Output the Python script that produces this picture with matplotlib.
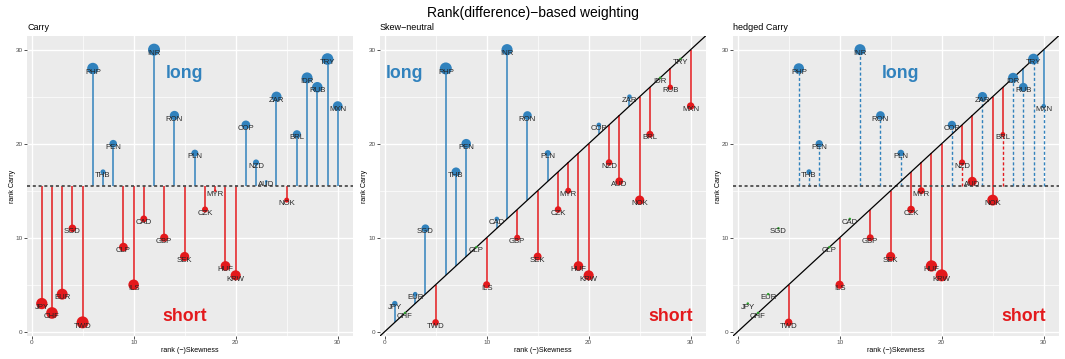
import numpy as np
import matplotlib
matplotlib.use("Agg")
import matplotlib.pyplot as plt

plt.rcParams["font.family"] = ["Liberation Sans", "DejaVu Sans"]

# ---- data -----------------------------------------------------------------
currencies = ["JPY", "CHF", "EUR", "SGD", "TWD", "PHP", "THB", "PEN", "CLP", "ILS",
              "CAD", "INR", "GBP", "RON", "SEK", "PLN", "CZK", "MYR", "HUF", "KRW",
              "COP", "NZD", "AUD", "ZAR", "NOK", "BRL", "IDR", "RUB", "TRY", "MXN"]
skew_rank = [1, 2, 3, 4, 5, 6, 7, 8, 9, 10,
             11, 12, 13, 14, 15, 16, 17, 18, 19, 20,
             21, 22, 23, 24, 25, 26, 27, 28, 29, 30]
carry_rank = [3, 2, 4, 11, 1, 28, 17, 20, 9, 5,
              12, 30, 10, 23, 8, 19, 13, 15, 7, 6,
              22, 18, 16, 25, 14, 21, 27, 26, 29, 24]

panel_titles = ["Carry", "Skew\u2212neutral", "hedged Carry"]
main_title = "Rank(difference)\u2212based weighting"
x_title = "rank (\u2212)Skewness"
y_title = "rank Carry"
axis_ticks = [0, 10, 20, 30]

BLUE = "#3182BD"
RED = "#E3191C"
GREEN = "#2CA02C"
PANEL_BG = "#EBEBEB"

W, H = 1065, 359
fig = plt.figure(figsize=(W / 100, H / 100), dpi=100)
fig.patch.set_facecolor("white")

x = np.array(skew_rank, dtype=float)
y = np.array(carry_rank, dtype=float)
mid = y.mean()

# portfolio weights
w_carry = y - mid
w_sn = y - x
long_leg = np.where(w_carry > 0, w_carry, 0.0)
long_leg = long_leg / long_leg.sum()
short_leg = np.where(w_sn < 0, w_sn, 0.0)
short_leg = short_leg / -short_leg.sum()
w_hedged = long_leg + short_leg


def marker_sizes(w):
    a = np.abs(w)
    t = (a - a.min()) / (a.max() - a.min())
    d_px = 2.5 + 9.5 * np.sqrt(t)
    return (d_px * 0.72) ** 2


def marker_colours(w):
    tol = 1e-9 * max(1.0, np.abs(w).max())
    return [BLUE if v > tol else (RED if v < -tol else GREEN) for v in w]


def px_x(p):
    return p / W


def px_y(p):
    return 1 - p / H


AX_TOP, AX_BOT, AX_W = 36, 336, 325.5
lefts = [27, 380, 733]
LIM = (-0.45, 31.45)


def make_axes(left, title):
    ax = fig.add_axes([left / W, (H - AX_BOT) / H, AX_W / W, (AX_BOT - AX_TOP) / H])
    ax.set_facecolor(PANEL_BG)
    ax.set_xlim(*LIM)
    ax.set_ylim(*LIM)
    for v in [5, 15, 25]:
        ax.axvline(v, color="white", lw=0.5, zorder=0)
        ax.axhline(v, color="white", lw=0.5, zorder=0)
    for v in axis_ticks:
        ax.axvline(v, color="white", lw=1.0, zorder=0)
        ax.axhline(v, color="white", lw=1.0, zorder=0)
    for s in ax.spines.values():
        s.set_visible(False)
    ax.set_xticks(axis_ticks)
    ax.set_yticks(axis_ticks)
    ax.tick_params(axis="both", length=2, width=0.6, color="#333333",
                   labelsize=4.6, labelcolor="#4D4D4D")
    ax.tick_params(axis="x", pad=1.0)
    ax.tick_params(axis="y", pad=1.2)
    fig.text(px_x(left), px_y(27), title, fontsize=6.5, ha="left", va="center",
             color="black")
    fig.text(px_x(left + AX_W / 2), px_y(350), x_title, fontsize=5.1,
             ha="center", va="center", color="black")
    fig.text(px_x(left - 15), px_y((AX_TOP + AX_BOT) / 2), y_title, fontsize=5.1,
             ha="center", va="center", rotation=90, color="black")
    return ax


def add_points(ax, w):
    ax.scatter(x, y, s=marker_sizes(w), c=marker_colours(w), linewidths=0,
               zorder=4)
    for xi, yi, name in zip(x, y, currencies):
        ax.text(xi, yi - 0.55, name, fontsize=5.6, ha="center", va="baseline",
                color="#262626", zorder=5)


def add_words(ax, long_x, short_x):
    ax.text(long_x, 27.0, "long", fontsize=12.8, fontweight="bold", color=BLUE,
            ha="center", va="baseline", zorder=6)
    ax.text(short_x, 1.1, "short", fontsize=12.8, fontweight="bold", color=RED,
            ha="center", va="baseline", zorder=6)


def mean_line(ax):
    ax.axhline(mid, color="#4D4D4D", lw=1.3, ls=(0, (1.7, 1.5)), zorder=3)


def diagonal(ax):
    ax.plot(LIM, LIM, color="black", lw=0.9, zorder=3)


fig.text(0.5, px_y(13), main_title, fontsize=10, ha="center", va="center",
         color="black")

# ---- Carry ----------------------------------------------------------------
ax1 = make_axes(lefts[0], panel_titles[0])
col1 = marker_colours(w_carry)
ax1.vlines(x, mid, y, colors=col1, lw=1.1, zorder=2)
mean_line(ax1)
add_points(ax1, w_carry)
add_words(ax1, 15, 15)

# ---- Skew-neutral -----------------------------------------------------------
ax2 = make_axes(lefts[1], panel_titles[1])
col2 = marker_colours(w_sn)
nz = w_sn != 0
ax2.vlines(x[nz], x[nz], y[nz], colors=[c for c, k in zip(col2, nz) if k],
           lw=1.1, zorder=2)
diagonal(ax2)
add_points(ax2, w_sn)
add_words(ax2, 2, 28)

# ---- hedged Carry -----------------------------------------------------------
ax3 = make_axes(lefts[2], panel_titles[2])
col3 = marker_colours(w_hedged)
in_long = w_carry > 0
in_short = w_sn < 0
ax3.vlines(x[in_long], mid, y[in_long],
           colors=[c for c, k in zip(col3, in_long) if k],
           lw=1.0, linestyles=(0, (2.2, 1.6)), zorder=2)
ax3.vlines(x[in_short], x[in_short], y[in_short],
           colors=[c for c, k in zip(col3, in_short) if k],
           lw=1.1, zorder=2)
mean_line(ax3)
diagonal(ax3)
add_points(ax3, w_hedged)
add_words(ax3, 16, 28)

fig.savefig("out.png", dpi=100)
